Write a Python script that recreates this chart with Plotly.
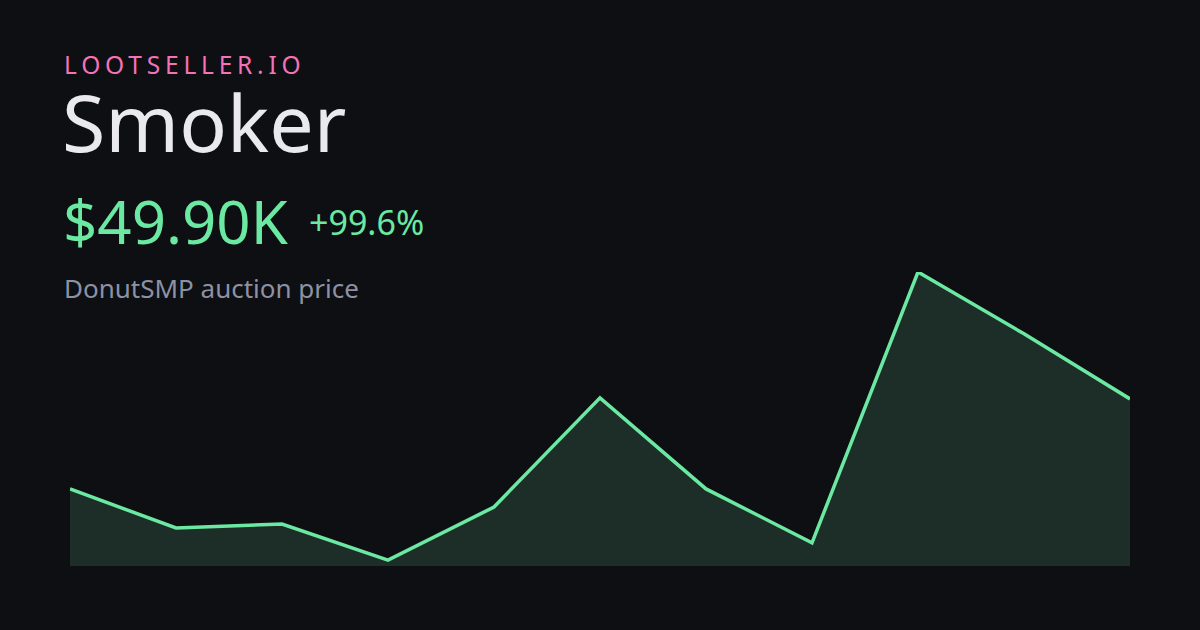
import plotly.graph_objects as go

# Data
points = list(range(11))
prices_k = [25.0, 14.2, 15.3, 5.3, 20.0, 50.2, 25.0, 10.1, 85.0, 67.9, 49.9]
brand = "LOOTSELLER.IO"
item_name = "Smoker"
price_label = "$49.90K"
change_label = "+99.6%"
subtitle = "DonutSMP auction price"

W, H = 1200, 630
L, R, T, B = 70, 1130, 272, 566
BG = "#0d0f12"
GREEN = "#6be8a2"


def px_x(x):
    return (x - L) / (R - L)


def px_y(y):
    return (B - y) / (B - T)


fig = go.Figure()
fig.add_trace(go.Scatter(
    x=points, y=prices_k, mode="lines",
    line=dict(color=GREEN, width=3.5),
    fill="tozeroy", fillcolor="#1d2e29",
    hoverinfo="skip",
))

font = "Noto Sans"
ann = []
def add(text, x, y, size, color, height=None):
    a = dict(text=text, xref="paper", yref="paper", x=px_x(x), y=px_y(y),
             xanchor="left", yanchor="middle", showarrow=False,
             font=dict(family=font, size=size, color=color), borderpad=0)
    if height:
        a["height"] = height
    ann.append(a)

add('<span style="letter-spacing:4.8px">' + brand + '</span>', 63, 64, 24.5, "#f472b6")
add(item_name, 61, 121, 79, "#e9e9ee", height=72)
add(price_label, 62, 221, 60, GREEN)
add(change_label, 308, 222, 34, GREEN)
add(subtitle, 63, 288, 26, "#8d91a4")

fig.update_layout(
    width=W, height=H,
    margin=dict(l=L, r=W - R, t=T, b=H - B, pad=0),
    paper_bgcolor=BG, plot_bgcolor=BG,
    showlegend=False,
    annotations=ann,
    xaxis=dict(range=[0, 10], visible=False, fixedrange=True),
    yaxis=dict(range=[3.68, 85.0], visible=False, fixedrange=True),
)

fig.write_html(
    "out.html",
    config={"displayModeBar": False},
    post_script="document.body.style.margin='0';document.body.style.background='#0d0f12';",
)
